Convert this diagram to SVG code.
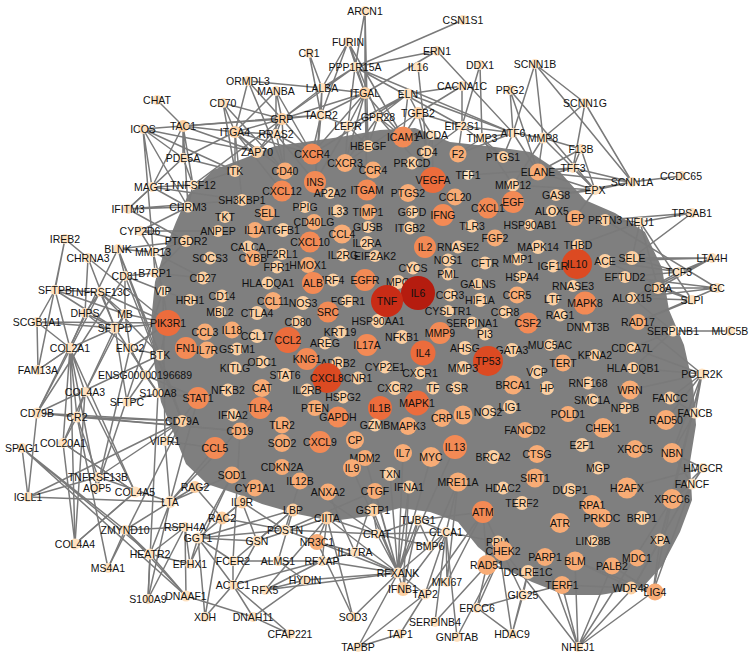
<svg xmlns="http://www.w3.org/2000/svg" width="751" height="658" viewBox="0 0 751 658">
<style>
text{font-family:"Liberation Sans",Arial,sans-serif;font-size:10.5px;fill:#111;text-anchor:middle}
.a{fill:#FEE1BF}.b{fill:#FCD0A3}.c{fill:#F8AC76}.d{fill:#F38A55}.e{fill:#EC6C3C}.f{fill:#DC4A22}.g{fill:#C92C16}.h{fill:#B51C0F}
#edges path{stroke:#7a7a7a;stroke-width:1.5;fill:none}
#core{fill:#7f7f7f}
</style>
<rect width="751" height="658" fill="#fff"/>
<path id="core" d="M188,195 L213,170 L245,158 L275,146 L305,142 L340,137 L380,130 L415,128 L450,142 L495,147 L530,152 L560,172 L585,200 L615,213 L645,232 L662,268 L669,310 L684,345 L693,385 L696,425 L690,462 L692,500 L680,532 L662,566 L642,588 L600,595 L565,595 L532,582 L505,569 L478,547 L458,522 L430,512 L400,508 L370,516 L332,521 L297,514 L262,504 L237,494 L207,484 L186,464 L174,434 L161,402 L154,362 L151,322 L155,282 L164,252 L176,222 Z"/>
<g id="edges">
<path id="e-ARCN1" d="M365 11L355 67M365 11L365 93M365 11L368 146"/>
<path id="e-CSN1S1" d="M463 20L355 67"/>
<path id="e-FURIN" d="M348 42L322 88M348 42L321 115M348 42L365 93M348 42L403 137M348 42L378 117"/>
<path id="e-CR1" d="M309 53L322 88M309 53L321 115"/>
<path id="e-ERN1" d="M437 51L355 67M437 51L513 133M437 51L365 93"/>
<path id="e-DDX1" d="M480 65L462 126M480 65L482 138"/>
<path id="e-SCNN1B" d="M535 64L585 103M535 64L632 182M535 64L543 138M535 64L513 133"/>
<path id="e-PPP1R15A" d="M355 67L365 93M355 67L513 133M355 67L322 88M355 67L462 126M355 67L282 119M355 67L348 126"/>
<path id="e-IL16" d="M418 67L427 152"/>
<path id="e-CACNA1C" d="M462 86L418 113M462 86L462 126M462 86L408 94"/>
<path id="e-PRG2" d="M510 90L595 190M510 90L538 172M510 90L513 133"/>
<path id="e-SCNN1G" d="M585 103L632 182M585 103L543 138M585 103L573 168"/>
<path id="e-ORMDL3" d="M248 81L322 88M248 81L285 171M248 81L235 132M248 81L282 119"/>
<path id="e-MANBA" d="M276 91L282 119M276 91L235 132M276 91L276 134M276 91L312 154"/>
<path id="e-LALBA" d="M322 88L282 119M322 88L321 115M322 88L315 182M322 88L365 93"/>
<path id="e-ITGAL" d="M365 93L403 137M365 93L348 126M365 93L312 154M365 93L367 190M365 93L368 146M365 93L321 115M365 93L282 119M365 93L345 163"/>
<path id="e-ELN" d="M408 94L418 113M408 94L403 137M408 94L378 117M408 94L513 133M408 94L348 126M408 94L312 154"/>
<path id="e-CHAT" d="M157 100L183 126"/>
<path id="e-CD70" d="M223 103L235 171M223 103L282 119M223 103L235 132M223 103L285 171"/>
<path id="e-TGFB2" d="M418 113L403 137M418 113L427 152M418 113L432 135M418 113L462 126M418 113L345 163"/>
<path id="e-GPR28" d="M378 117L403 137M378 117L368 146M378 117L345 163M378 117L433 180"/>
<path id="e-TACR2" d="M321 115L282 119M321 115L183 126M321 115L315 182M321 115L348 126M321 115L312 154"/>
<path id="e-GRP" d="M282 119L183 126M282 119L235 132M282 119L276 134M282 119L312 154M282 119L285 171M282 119L257 152M282 119L193 185"/>
<path id="e-LEPR" d="M348 126L368 146M348 126L345 163M348 126L315 182"/>
<path id="e-TAC1" d="M183 126L183 158M183 126L188 207M183 126L235 132M183 126L143 129M183 126L193 185M183 126L152 187M183 126L257 152"/>
<path id="e-ICOS" d="M143 129L155 273M143 129L152 187M143 129L183 158M143 129L257 152M143 129L188 207M143 129L235 171"/>
<path id="e-ITGA4" d="M235 132L257 152M235 132L235 171M235 132L285 171M235 132L276 134M235 132L183 158M235 132L242 200M235 132L282 191M235 132L312 154"/>
<path id="e-RRAS2" d="M276 134L312 154M276 134L257 152M276 134L285 171M276 134L315 182"/>
<path id="e-EIF2S1" d="M462 126L458 154M462 126L503 157M462 126L513 133M462 126L427 152"/>
<path id="e-AICDA" d="M432 135L427 152M432 135L433 180M432 135L403 137"/>
<path id="e-TIMP3" d="M482 138L503 157M482 138L458 154M482 138L513 185M482 138L513 133"/>
<path id="e-ATF6" d="M513 133L503 157M513 133L538 172M513 133L543 138M513 133L458 154"/>
<path id="e-MMP8" d="M543 138L538 172M543 138L513 185M543 138L573 168M543 138L595 190"/>
<path id="e-F13B" d="M581 149L573 168M581 149L538 172M581 149L543 138M581 149L595 190"/>
<path id="e-PDE5A" d="M183 158L152 187M183 158L193 185M183 158L235 171M183 158L128 209"/>
<path id="e-TFF3" d="M573 168L595 190M573 168L538 172M573 168L468 175M573 168L513 185M573 168L632 182"/>
<path id="e-CCDC65" d="M681 176L632 182"/>
<path id="e-SCNN1A" d="M632 182L595 190M632 182L538 172M632 182L556 195"/>
<path id="e-TNFSF12" d="M193 185L152 187M193 185L188 207M193 185L235 171"/>
<path id="e-MAGT1" d="M152 187L128 209M152 187L188 207M152 187L242 200"/>
<path id="e-EPX" d="M595 190L538 172M595 190L556 195M595 190L513 185M595 190L575 218"/>
<path id="e-IFITM3" d="M128 209L188 207M128 209L242 200M128 209L186 241"/>
<path id="e-TPSAB1" d="M692 213L640 222M692 213L605 220M692 213L632 258"/>
<path id="e-NEU1" d="M640 222L605 220M640 222L632 258M640 222L578 245M640 222L658 288"/>
<path id="e-CYP2D6" d="M140 231L186 241M140 231L153 252M140 231L188 207M140 231L218 231"/>
<path id="e-IREB2" d="M65 239L55 290M65 239L38 370M65 239L88 258"/>
<path id="e-BLNK" d="M118 249L153 252M118 249L125 276M118 249L160 355M118 249L37 413M118 249L186 241M118 249L182 421"/>
<path id="e-MMP13" d="M153 252L186 241M153 252L163 291M153 252L203 278"/>
<path id="e-CHRNA3" d="M88 258L85 313M88 258L115 328M88 258L168 323"/>
<path id="e-B7RP1" d="M155 273L186 241M155 273L125 276M155 273L203 278"/>
<path id="e-CD81" d="M125 276L163 291M125 276L125 314M125 276L182 421M125 276L37 413"/>
<path id="e-VIP" d="M163 291L168 323M163 291L190 300"/>
<path id="e-SFTPB" d="M55 290L37 322M55 290L115 328M55 290L70 348M55 290L100 292M55 290L125 314"/>
<path id="e-TNFRSF13C" d="M100 292L115 328M100 292L125 314M100 292L160 355M100 292L37 413M100 292L85 313M100 292L168 323"/>
<path id="e-DHPS" d="M85 313L115 328M85 313L130 348M85 313L70 348"/>
<path id="e-MB" d="M125 314L115 328M125 314L168 323M125 314L130 348M125 314L85 392"/>
<path id="e-SCGB1A1" d="M37 322L115 328M37 322L168 323M37 322L70 348"/>
<path id="e-SFTPD" d="M115 328L127 402M115 328L168 323M115 328L70 348M115 328L85 392M115 328L158 393"/>
<path id="e-COL2A1" d="M70 348L85 392M70 348L75 544M70 348L77 417M70 348L63 443M70 348L135 492M70 348L38 370M70 348L97 488"/>
<path id="e-ENO2" d="M130 348L160 355M130 348L168 323M130 348L145 375"/>
<path id="e-BTK" d="M160 355L168 323M160 355L182 421"/>
<path id="e-FAM13A" d="M38 370L37 322M38 370L70 348"/>
<path id="e-ENSG" d="M145 375L130 348M145 375L158 393M145 375L198 398"/>
<path id="e-COL4A3" d="M85 392L75 544M85 392L135 492M85 392L77 417M85 392L63 443"/>
<path id="e-S100A8" d="M158 393L148 599M158 393L198 398M158 393L127 402"/>
<path id="e-SFTPC" d="M127 402L160 355"/>
<path id="e-CD79B" d="M37 413L77 417M37 413L182 421M37 413L28 497M37 413L240 431M37 413L160 355"/>
<path id="e-CR2" d="M77 417L182 421M77 417L240 431M77 417L108 568M77 417L63 443"/>
<path id="e-SPAG1" d="M22 448L28 497M22 448L150 554M22 448L186 596M22 448L125 530"/>
<path id="e-COL20A1" d="M63 443L75 544M63 443L135 492"/>
<path id="e-VIPR1" d="M165 441L163 291M165 441L170 502M165 441L215 448M165 441L198 398"/>
<path id="e-TNFRSF13B" d="M98 477L170 502M98 477L182 421M98 477L28 497M98 477L77 417"/>
<path id="e-AQP5" d="M97 488L163 291M97 488L130 348"/>
<path id="e-COL4A5" d="M135 492L75 544M135 492L63 443"/>
<path id="e-IGLL1" d="M28 497L170 502M28 497L182 421"/>
<path id="e-LTA" d="M170 502L215 448M170 502L198 398M170 502L232 475M170 502L150 554M170 502L148 599M170 502L195 487M170 502L260 408"/>
<path id="e-ZMYND10" d="M125 530L150 554M125 530L108 568M125 530L185 527M125 530L186 596M125 530L170 502"/>
<path id="e-RSPH4A" d="M185 527L150 554M185 527L186 596M185 527L190 564M185 527L148 599"/>
<path id="e-COL4A4" d="M75 544L135 492"/>
<path id="e-HEATR2" d="M150 554L186 596M150 554L148 599M150 554L190 564"/>
<path id="e-MS4A1" d="M108 568L182 421"/>
<path id="e-EPHX1" d="M190 564L198 538M190 564L232 475"/>
<path id="e-DNAAF1" d="M186 596L253 617"/>
<path id="e-GGT1" d="M198 538L222 518M198 538L257 541M198 538L242 502M198 538L232 475M198 538L293 510"/>
<path id="e-RAC2" d="M222 518L242 502M222 518L195 487M222 518L285 530"/>
<path id="e-XDH" d="M205 617L233 585M205 617L198 538M205 617L222 518"/>
<path id="e-DNAH11" d="M253 617L233 585M253 617L305 580"/>
<path id="e-CFAP221" d="M290 634L233 585M290 634L253 617"/>
<path id="e-ACTC1" d="M233 585L257 541M233 585L233 561M233 585L198 538M233 585L322 561"/>
<path id="e-RFX5" d="M265 590L322 561M265 590L327 518M265 590L398 573M265 590L305 580"/>
<path id="e-HYDIN" d="M305 580L398 573M305 580L278 561"/>
<path id="e-FCER2" d="M233 561L240 431M233 561L293 510M233 561L198 538"/>
<path id="e-ALMS1" d="M278 561L233 561M278 561L322 561M278 561L293 510"/>
<path id="e-RFXAP" d="M322 561L327 518M322 561L398 573M322 561L355 552"/>
<path id="e-GSN" d="M257 541L293 510M257 541L327 518M257 541L242 502"/>
<path id="e-POSTN" d="M285 530L242 502M285 530L300 481M285 530L375 491M285 530L198 538M285 530L317 542"/>
<path id="e-NR3C1" d="M317 542L327 518M317 542L353 617M317 542L355 552M317 542L398 573"/>
<path id="e-IL17RA" d="M355 552L375 491M355 552L398 573M355 552L328 492"/>
<path id="e-SOD3" d="M353 617L327 518M353 617L398 573"/>
<path id="e-TAPBP" d="M358 647L400 634M358 647L425 594M358 647L398 573"/>
<path id="e-RFXANK" d="M398 573L327 518M398 573L375 491M398 573L390 474M398 573L409 487M398 573L403 453M398 573L431 457M398 573L365 458M398 573L352 468M398 573L418 520M398 573L377 534M398 573L446 532M398 573L373 510M398 573L455 447"/>
<path id="e-IFNB1" d="M403 589L398 573M403 589L409 487M403 589L418 520M403 589L446 532"/>
<path id="e-TAP2" d="M425 594L400 634M425 594L398 573M425 594L446 532M425 594L483 512"/>
<path id="e-MKI67" d="M447 582L446 532M447 582L458 482M447 582L483 512"/>
<path id="e-SERPINB4" d="M435 622L446 532M435 622L487 565"/>
<path id="e-GNPTAB" d="M457 637L446 532M457 637L503 550"/>
<path id="e-ERCC6" d="M477 608L523 595M477 608L487 565M477 608L512 634M477 608L503 550"/>
<path id="e-HDAC9" d="M512 634L528 572M512 634L498 542M512 634L523 595"/>
<path id="e-GIG25" d="M523 595L528 572M523 595L562 585M523 595L483 512"/>
<path id="e-NHEJ1" d="M578 647L653 592M578 647L633 588M578 647L562 585M578 647L575 561M578 647L612 566M578 647L672 499M578 647L503 550M578 647L545 557"/>
<path id="e-CLCA1" d="M446 532L418 520M446 532L377 534M446 532L458 482"/>
<path id="e-TUBG1" d="M418 520L377 534M418 520L483 512"/>
<path id="e-BMP6" d="M430 546L418 520M430 546L458 482M430 546L377 534"/>
<path id="e-CRAT" d="M377 534L373 510M377 534L327 518M377 534L300 481M377 534L285 530"/>
<path id="e-RAD51" d="M487 565L483 512M487 565L528 572"/>
<path id="e-PPIA" d="M498 542L446 532"/>
<path id="e-LTA4H" d="M712 258L632 258M712 258L658 288M712 258L605 261M712 258L679 272M712 258L632 298"/>
<path id="e-TCF3" d="M679 272L632 258M679 272L625 277M679 272L605 261M679 272L632 298"/>
<path id="e-GC" d="M717 288L658 288M717 288L632 298M717 288L625 277M717 288L638 322M717 288L605 220"/>
<path id="e-SLPI" d="M692 300L632 298M692 300L658 288M692 300L638 322M692 300L605 261M692 300L640 222"/>
<path id="e-SERPINB1" d="M673 331L730 331M673 331L638 322M673 331L632 348M673 331L632 298M673 331L633 368"/>
<path id="e-POLR2K" d="M702 374L633 368M702 374L670 398M702 374L630 390M702 374L638 322M702 374L666 420M702 374L672 453M702 374L695 413M702 374L632 348M702 374L672 499M702 374L660 540"/>
<path id="e-FANCB" d="M695 413L666 420M695 413L672 453M695 413L670 398"/>
<path id="e-HMGCR" d="M703 468L672 453M703 468L672 499M703 468L627 488M703 468L692 484"/>
<path id="e-FANCF" d="M692 484L672 499M692 484L672 453M692 484L660 540M692 484L653 592M692 484L633 588"/>
<path id="e-XPA" d="M660 540L653 592M660 540L633 588M660 540L672 499"/>
<path id="e-LIG4" d="M653 592L633 588M653 592L612 566M653 592L575 561M653 592L672 499"/>
<path id="e-WDR48" d="M633 588L562 585M633 588L575 561"/>
</g>
<g id="nodes">
<g id="n-ARCN1"><circle class="a" cx="365" cy="11" r="5"/><text x="365" y="15">ARCN1</text></g>
<g id="n-CSN1S1"><circle class="a" cx="463" cy="20" r="5"/><text x="463" y="24">CSN1S1</text></g>
<g id="n-FURIN"><circle class="a" cx="348" cy="42" r="5"/><text x="348" y="46">FURIN</text></g>
<g id="n-CR1"><circle class="a" cx="309" cy="53" r="5"/><text x="309" y="57">CR1</text></g>
<g id="n-ERN1"><circle class="a" cx="437" cy="51" r="5"/><text x="437" y="55">ERN1</text></g>
<g id="n-DDX1"><circle class="a" cx="480" cy="65" r="5"/><text x="480" y="69">DDX1</text></g>
<g id="n-SCNN1B"><circle class="a" cx="535" cy="64" r="5"/><text x="535" y="68">SCNN1B</text></g>
<g id="n-PPP1R15A"><circle class="a" cx="355" cy="67" r="5"/><text x="355" y="71">PPP1R15A</text></g>
<g id="n-IL16"><circle class="a" cx="418" cy="67" r="5"/><text x="418" y="71">IL16</text></g>
<g id="n-CACNA1C"><circle class="a" cx="462" cy="86" r="5"/><text x="462" y="90">CACNA1C</text></g>
<g id="n-PRG2"><circle class="a" cx="510" cy="90" r="5"/><text x="510" y="94">PRG2</text></g>
<g id="n-SCNN1G"><circle class="a" cx="585" cy="103" r="5"/><text x="585" y="107">SCNN1G</text></g>
<g id="n-ORMDL3"><circle class="a" cx="248" cy="81" r="5"/><text x="248" y="85">ORMDL3</text></g>
<g id="n-MANBA"><circle class="a" cx="276" cy="91" r="5"/><text x="276" y="95">MANBA</text></g>
<g id="n-LALBA"><circle class="a" cx="322" cy="88" r="5"/><text x="322" y="92">LALBA</text></g>
<g id="n-ITGAL"><circle class="b" cx="365" cy="93" r="6"/><text x="365" y="97">ITGAL</text></g>
<g id="n-ELN"><circle class="a" cx="408" cy="94" r="5.5"/><text x="408" y="98">ELN</text></g>
<g id="n-CHAT"><circle class="a" cx="157" cy="100" r="5"/><text x="157" y="104">CHAT</text></g>
<g id="n-CD70"><circle class="a" cx="223" cy="103" r="5"/><text x="223" y="107">CD70</text></g>
<g id="n-TGFB2"><circle class="b" cx="418" cy="113" r="6"/><text x="418" y="117">TGFB2</text></g>
<g id="n-GPR28"><circle class="a" cx="378" cy="117" r="5"/><text x="378" y="121">GPR28</text></g>
<g id="n-TACR2"><circle class="a" cx="321" cy="115" r="5.5"/><text x="321" y="119">TACR2</text></g>
<g id="n-GRP"><circle class="b" cx="282" cy="119" r="6"/><text x="282" y="123">GRP</text></g>
<g id="n-LEPR"><circle class="a" cx="348" cy="126" r="5.5"/><text x="348" y="130">LEPR</text></g>
<g id="n-TAC1"><circle class="b" cx="183" cy="126" r="6"/><text x="183" y="130">TAC1</text></g>
<g id="n-ICOS"><circle class="a" cx="143" cy="129" r="5"/><text x="143" y="133">ICOS</text></g>
<g id="n-ITGA4"><circle class="b" cx="235" cy="132" r="6"/><text x="235" y="136">ITGA4</text></g>
<g id="n-RRAS2"><circle class="a" cx="276" cy="134" r="5"/><text x="276" y="138">RRAS2</text></g>
<g id="n-EIF2S1"><circle class="a" cx="462" cy="126" r="5"/><text x="462" y="130">EIF2S1</text></g>
<g id="n-AICDA"><circle class="a" cx="432" cy="135" r="5"/><text x="432" y="139">AICDA</text></g>
<g id="n-TIMP3"><circle class="a" cx="482" cy="138" r="5"/><text x="482" y="142">TIMP3</text></g>
<g id="n-ATF6"><circle class="a" cx="513" cy="133" r="5"/><text x="513" y="137">ATF6</text></g>
<g id="n-MMP8"><circle class="a" cx="543" cy="138" r="5.5"/><text x="543" y="142">MMP8</text></g>
<g id="n-ICAM1"><circle class="d" cx="403" cy="137" r="10.5"/><text x="403" y="141">ICAM1</text></g>
<g id="n-F13B"><circle class="a" cx="581" cy="149" r="5"/><text x="581" y="153">F13B</text></g>
<g id="n-HBEGF"><circle class="b" cx="368" cy="146" r="6"/><text x="368" y="150">HBEGF</text></g>
<g id="n-ZAP70"><circle class="b" cx="257" cy="152" r="6"/><text x="257" y="156">ZAP70</text></g>
<g id="n-CXCR4"><circle class="d" cx="312" cy="154" r="10.5"/><text x="312" y="158">CXCR4</text></g>
<g id="n-CD4"><circle class="b" cx="427" cy="152" r="6.5"/><text x="427" y="156">CD4</text></g>
<g id="n-F2"><circle class="c" cx="458" cy="154" r="8.5"/><text x="458" y="158">F2</text></g>
<g id="n-PTGS1"><circle class="b" cx="503" cy="157" r="6"/><text x="503" y="161">PTGS1</text></g>
<g id="n-PDE5A"><circle class="a" cx="183" cy="158" r="5"/><text x="183" y="162">PDE5A</text></g>
<g id="n-CXCR3"><circle class="c" cx="345" cy="163" r="9"/><text x="345" y="167">CXCR3</text></g>
<g id="n-PRKCD"><circle class="b" cx="412" cy="163" r="6.5"/><text x="412" y="167">PRKCD</text></g>
<g id="n-TFF3"><circle class="a" cx="573" cy="168" r="5"/><text x="573" y="172">TFF3</text></g>
<g id="n-CCR4"><circle class="c" cx="373" cy="170" r="8.5"/><text x="373" y="174">CCR4</text></g>
<g id="n-ITK"><circle class="b" cx="235" cy="171" r="6"/><text x="235" y="175">ITK</text></g>
<g id="n-CD40"><circle class="c" cx="285" cy="171" r="8.5"/><text x="285" y="175">CD40</text></g>
<g id="n-ELANE"><circle class="c" cx="538" cy="172" r="8.5"/><text x="538" y="176">ELANE</text></g>
<g id="n-TFF1"><circle class="a" cx="468" cy="175" r="5"/><text x="468" y="179">TFF1</text></g>
<g id="n-CCDC65"><circle class="a" cx="681" cy="176" r="5"/><text x="681" y="180">CCDC65</text></g>
<g id="n-VEGFA"><circle class="e" cx="433" cy="180" r="13"/><text x="433" y="184">VEGFA</text></g>
<g id="n-INS"><circle class="d" cx="315" cy="182" r="11"/><text x="315" y="186">INS</text></g>
<g id="n-SCNN1A"><circle class="a" cx="632" cy="182" r="5"/><text x="632" y="186">SCNN1A</text></g>
<g id="n-MMP12"><circle class="b" cx="513" cy="185" r="6.5"/><text x="513" y="189">MMP12</text></g>
<g id="n-TNFSF12"><circle class="a" cx="193" cy="185" r="5"/><text x="193" y="189">TNFSF12</text></g>
<g id="n-MAGT1"><circle class="a" cx="152" cy="187" r="5"/><text x="152" y="191">MAGT1</text></g>
<g id="n-EPX"><circle class="a" cx="595" cy="190" r="5"/><text x="595" y="194">EPX</text></g>
<g id="n-ITGAM"><circle class="d" cx="367" cy="190" r="10.5"/><text x="367" y="194">ITGAM</text></g>
<g id="n-CXCL12"><circle class="d" cx="282" cy="191" r="10.5"/><text x="282" y="195">CXCL12</text></g>
<g id="n-AP2A2"><circle class="b" cx="330" cy="193" r="6"/><text x="330" y="197">AP2A2</text></g>
<g id="n-PTGS2"><circle class="c" cx="408" cy="193" r="9"/><text x="408" y="197">PTGS2</text></g>
<g id="n-GAS8"><circle class="b" cx="556" cy="195" r="6"/><text x="556" y="199">GAS8</text></g>
<g id="n-CCL20"><circle class="c" cx="455" cy="197" r="8.5"/><text x="455" y="201">CCL20</text></g>
<g id="n-SH3KBP1"><circle class="b" cx="242" cy="200" r="6"/><text x="242" y="204">SH3KBP1</text></g>
<g id="n-EGF"><circle class="d" cx="513" cy="202" r="11"/><text x="513" y="206">EGF</text></g>
<g id="n-PPIG"><circle class="b" cx="305" cy="207" r="6"/><text x="305" y="211">PPIG</text></g>
<g id="n-CHRM3"><circle class="a" cx="188" cy="207" r="5.5"/><text x="188" y="211">CHRM3</text></g>
<g id="n-CXCL1"><circle class="d" cx="488" cy="208" r="10.5"/><text x="488" y="212">CXCL1</text></g>
<g id="n-IFITM3"><circle class="a" cx="128" cy="209" r="5"/><text x="128" y="213">IFITM3</text></g>
<g id="n-ALOX5"><circle class="b" cx="552" cy="211" r="6"/><text x="552" y="215">ALOX5</text></g>
<g id="n-IL33"><circle class="b" cx="338" cy="211" r="6.5"/><text x="338" y="215">IL33</text></g>
<g id="n-TIMP1"><circle class="c" cx="368" cy="212" r="8"/><text x="368" y="216">TIMP1</text></g>
<g id="n-G6PD"><circle class="b" cx="412" cy="212" r="6.5"/><text x="412" y="216">G6PD</text></g>
<g id="n-SELL"><circle class="c" cx="267" cy="213" r="8"/><text x="267" y="217">SELL</text></g>
<g id="n-TPSAB1"><circle class="a" cx="692" cy="213" r="5"/><text x="692" y="217">TPSAB1</text></g>
<g id="n-IFNG"><circle class="d" cx="443" cy="215" r="11"/><text x="443" y="219">IFNG</text></g>
<g id="n-TKT"><circle class="b" cx="225" cy="217" r="6"/><text x="225" y="221">TKT</text></g>
<g id="n-LEP"><circle class="c" cx="575" cy="218" r="8"/><text x="575" y="222">LEP</text></g>
<g id="n-PRTN3"><circle class="b" cx="605" cy="220" r="6"/><text x="605" y="224">PRTN3</text></g>
<g id="n-CD40LG"><circle class="c" cx="314" cy="222" r="8"/><text x="314" y="226">CD40LG</text></g>
<g id="n-NEU1"><circle class="a" cx="640" cy="222" r="5"/><text x="640" y="226">NEU1</text></g>
<g id="n-HSP90AB1"><circle class="b" cx="530" cy="225" r="6"/><text x="530" y="229">HSP90AB1</text></g>
<g id="n-GUSB"><circle class="b" cx="368" cy="227" r="6"/><text x="368" y="231">GUSB</text></g>
<g id="n-TLR3"><circle class="b" cx="472" cy="226" r="6.5"/><text x="472" y="230">TLR3</text></g>
<g id="n-ITGB2"><circle class="b" cx="410" cy="228" r="6.5"/><text x="410" y="232">ITGB2</text></g>
<g id="n-IL1A"><circle class="c" cx="255" cy="230" r="8"/><text x="255" y="234">IL1A</text></g>
<g id="n-TGFB1"><circle class="b" cx="283" cy="230" r="7"/><text x="283" y="234">TGFB1</text></g>
<g id="n-CYP2D6"><circle class="a" cx="140" cy="231" r="5"/><text x="140" y="235">CYP2D6</text></g>
<g id="n-ANPEP"><circle class="b" cx="218" cy="231" r="6"/><text x="218" y="235">ANPEP</text></g>
<g id="n-CCL4"><circle class="c" cx="342" cy="234" r="9.5"/><text x="342" y="238">CCL4</text></g>
<g id="n-FGF2"><circle class="c" cx="495" cy="238" r="8.5"/><text x="495" y="242">FGF2</text></g>
<g id="n-IREB2"><circle class="a" cx="65" cy="239" r="5"/><text x="65" y="243">IREB2</text></g>
<g id="n-PTGDR2"><circle class="b" cx="186" cy="241" r="6"/><text x="186" y="245">PTGDR2</text></g>
<g id="n-CXCL10"><circle class="d" cx="310" cy="242" r="10.5"/><text x="310" y="246">CXCL10</text></g>
<g id="n-IL2RA"><circle class="b" cx="367" cy="243" r="7"/><text x="367" y="247">IL2RA</text></g>
<g id="n-THBD"><circle class="b" cx="578" cy="245" r="6"/><text x="578" y="249">THBD</text></g>
<g id="n-CALCA"><circle class="b" cx="248" cy="247" r="6.5"/><text x="248" y="251">CALCA</text></g>
<g id="n-IL2"><circle class="d" cx="425" cy="247" r="11"/><text x="425" y="251">IL2</text></g>
<g id="n-RNASE2"><circle class="b" cx="458" cy="247" r="6.5"/><text x="458" y="251">RNASE2</text></g>
<g id="n-MAPK14"><circle class="b" cx="538" cy="247" r="7"/><text x="538" y="251">MAPK14</text></g>
<g id="n-BLNK"><circle class="a" cx="118" cy="249" r="5"/><text x="118" y="253">BLNK</text></g>
<g id="n-MMP13"><circle class="a" cx="153" cy="252" r="5"/><text x="153" y="256">MMP13</text></g>
<g id="n-F2RL1"><circle class="b" cx="282" cy="254" r="6"/><text x="282" y="258">F2RL1</text></g>
<g id="n-IL2RG"><circle class="b" cx="343" cy="255" r="6.5"/><text x="343" y="259">IL2RG</text></g>
<g id="n-EIF2AK2"><circle class="b" cx="375" cy="256" r="6"/><text x="375" y="260">EIF2AK2</text></g>
<g id="n-CHRNA3"><circle class="a" cx="88" cy="258" r="5"/><text x="88" y="262">CHRNA3</text></g>
<g id="n-SOCS3"><circle class="b" cx="210" cy="258" r="6.5"/><text x="210" y="262">SOCS3</text></g>
<g id="n-CYBB"><circle class="c" cx="253" cy="258" r="8"/><text x="253" y="262">CYBB</text></g>
<g id="n-SELE"><circle class="b" cx="632" cy="258" r="7"/><text x="632" y="262">SELE</text></g>
<g id="n-LTA4H"><circle class="a" cx="712" cy="258" r="5"/><text x="712" y="262">LTA4H</text></g>
<g id="n-MMP1"><circle class="b" cx="518" cy="259" r="6.5"/><text x="518" y="263">MMP1</text></g>
<g id="n-NOS1"><circle class="b" cx="448" cy="260" r="6.5"/><text x="448" y="264">NOS1</text></g>
<g id="n-ACE"><circle class="b" cx="605" cy="261" r="7"/><text x="605" y="265">ACE</text></g>
<g id="n-CFTR"><circle class="b" cx="485" cy="263" r="6.5"/><text x="485" y="267">CFTR</text></g>
<g id="n-IL10"><circle class="f" cx="577" cy="264" r="15"/><text x="577" y="268">IL10</text></g>
<g id="n-HMOX1"><circle class="c" cx="308" cy="265" r="8"/><text x="308" y="269">HMOX1</text></g>
<g id="n-IGF1R"><circle class="b" cx="553" cy="266" r="6.5"/><text x="553" y="270">IGF1R</text></g>
<g id="n-FPR1"><circle class="b" cx="277" cy="267" r="6.5"/><text x="277" y="271">FPR1</text></g>
<g id="n-CYCS"><circle class="b" cx="413" cy="268" r="6.5"/><text x="413" y="272">CYCS</text></g>
<g id="n-TCF3"><circle class="a" cx="679" cy="272" r="5"/><text x="679" y="276">TCF3</text></g>
<g id="n-B7RP1"><circle class="a" cx="155" cy="273" r="5"/><text x="155" y="277">B7RP1</text></g>
<g id="n-PML"><circle class="b" cx="448" cy="274" r="6.5"/><text x="448" y="278">PML</text></g>
<g id="n-CD81"><circle class="a" cx="125" cy="276" r="5"/><text x="125" y="280">CD81</text></g>
<g id="n-EFTUD2"><circle class="b" cx="625" cy="277" r="6"/><text x="625" y="281">EFTUD2</text></g>
<g id="n-HSPA4"><circle class="b" cx="522" cy="277" r="6.5"/><text x="522" y="281">HSPA4</text></g>
<g id="n-CD27"><circle class="b" cx="203" cy="278" r="6.5"/><text x="203" y="282">CD27</text></g>
<g id="n-IRF4"><circle class="b" cx="333" cy="280" r="6.5"/><text x="333" y="284">IRF4</text></g>
<g id="n-EGFR"><circle class="d" cx="365" cy="280" r="11"/><text x="365" y="284">EGFR</text></g>
<g id="n-MPO"><circle class="b" cx="398" cy="282" r="7"/><text x="398" y="286">MPO</text></g>
<g id="n-GALNS"><circle class="b" cx="478" cy="284" r="6"/><text x="478" y="288">GALNS</text></g>
<g id="n-HLA-DQA1"><circle class="b" cx="268" cy="283" r="6.5"/><text x="268" y="287">HLA-DQA1</text></g>
<g id="n-ALB"><circle class="d" cx="313" cy="283" r="11"/><text x="313" y="287">ALB</text></g>
<g id="n-RNASE3"><circle class="b" cx="573" cy="286" r="6"/><text x="573" y="290">RNASE3</text></g>
<g id="n-CD8A"><circle class="b" cx="658" cy="288" r="6"/><text x="658" y="292">CD8A</text></g>
<g id="n-GC"><circle class="a" cx="717" cy="288" r="5"/><text x="717" y="292">GC</text></g>
<g id="n-SFTPB"><circle class="a" cx="55" cy="290" r="5"/><text x="55" y="294">SFTPB</text></g>
<g id="n-VIP"><circle class="a" cx="163" cy="291" r="5.5"/><text x="163" y="295">VIP</text></g>
<g id="n-TNFRSF13C"><circle class="a" cx="100" cy="292" r="5"/><text x="100" y="296">TNFRSF13C</text></g>
<g id="n-CCR3"><circle class="b" cx="450" cy="295" r="6.5"/><text x="450" y="299">CCR3</text></g>
<g id="n-CCR5"><circle class="c" cx="517" cy="295" r="8.5"/><text x="517" y="299">CCR5</text></g>
<g id="n-CD14"><circle class="b" cx="222" cy="296" r="6.5"/><text x="222" y="300">CD14</text></g>
<g id="n-ALOX15"><circle class="b" cx="632" cy="298" r="6"/><text x="632" y="302">ALOX15</text></g>
<g id="n-LTF"><circle class="b" cx="553" cy="299" r="6.5"/><text x="553" y="303">LTF</text></g>
<g id="n-HRH1"><circle class="b" cx="190" cy="300" r="6"/><text x="190" y="304">HRH1</text></g>
<g id="n-HIF1A"><circle class="b" cx="480" cy="300" r="7"/><text x="480" y="304">HIF1A</text></g>
<g id="n-SLPI"><circle class="a" cx="692" cy="300" r="5"/><text x="692" y="304">SLPI</text></g>
<g id="n-CCL11"><circle class="c" cx="273" cy="301" r="9"/><text x="273" y="305">CCL11</text></g>
<g id="n-FGFR1"><circle class="b" cx="348" cy="301" r="6.5"/><text x="348" y="305">FGFR1</text></g>
<g id="n-NOS3"><circle class="b" cx="303" cy="303" r="7"/><text x="303" y="307">NOS3</text></g>
<g id="n-MAPK8"><circle class="d" cx="585" cy="303" r="11.5"/><text x="585" y="307">MAPK8</text></g>
<g id="n-CYSLTR1"><circle class="b" cx="448" cy="311" r="6"/><text x="448" y="315">CYSLTR1</text></g>
<g id="n-CCR8"><circle class="b" cx="505" cy="312" r="6.5"/><text x="505" y="316">CCR8</text></g>
<g id="n-MBL2"><circle class="b" cx="220" cy="312" r="6"/><text x="220" y="316">MBL2</text></g>
<g id="n-SRC"><circle class="d" cx="328" cy="312" r="10.5"/><text x="328" y="316">SRC</text></g>
<g id="n-DHPS"><circle class="a" cx="85" cy="313" r="5"/><text x="85" y="317">DHPS</text></g>
<g id="n-CTLA4"><circle class="b" cx="257" cy="313" r="7"/><text x="257" y="317">CTLA4</text></g>
<g id="n-MB"><circle class="a" cx="125" cy="314" r="5"/><text x="125" y="318">MB</text></g>
<g id="n-RAG1"><circle class="b" cx="560" cy="315" r="6.5"/><text x="560" y="319">RAG1</text></g>
<g id="n-HSP90AA1"><circle class="b" cx="378" cy="321" r="7"/><text x="378" y="325">HSP90AA1</text></g>
<g id="n-SCGB1A1"><circle class="a" cx="37" cy="322" r="5"/><text x="37" y="326">SCGB1A1</text></g>
<g id="n-CD80"><circle class="b" cx="298" cy="322" r="6.5"/><text x="298" y="326">CD80</text></g>
<g id="n-RAD17"><circle class="c" cx="638" cy="322" r="8"/><text x="638" y="326">RAD17</text></g>
<g id="n-PIK3R1"><circle class="e" cx="168" cy="323" r="13"/><text x="168" y="327">PIK3R1</text></g>
<g id="n-SERPINA1"><circle class="b" cx="472" cy="323" r="6.5"/><text x="472" y="327">SERPINA1</text></g>
<g id="n-CSF2"><circle class="d" cx="528" cy="323" r="10.5"/><text x="528" y="327">CSF2</text></g>
<g id="n-DNMT3B"><circle class="b" cx="588" cy="327" r="6"/><text x="588" y="331">DNMT3B</text></g>
<g id="n-SFTPD"><circle class="a" cx="115" cy="328" r="5.5"/><text x="115" y="332">SFTPD</text></g>
<g id="n-IL18"><circle class="c" cx="232" cy="330" r="8.5"/><text x="232" y="334">IL18</text></g>
<g id="n-SERPINB1"><circle class="a" cx="673" cy="331" r="5.5"/><text x="673" y="335">SERPINB1</text></g>
<g id="n-MUC5B"><circle class="a" cx="730" cy="331" r="5"/><text x="730" y="335">MUC5B</text></g>
<g id="n-CCL3"><circle class="c" cx="205" cy="332" r="8.5"/><text x="205" y="336">CCL3</text></g>
<g id="n-KRT19"><circle class="b" cx="340" cy="332" r="6.5"/><text x="340" y="336">KRT19</text></g>
<g id="n-MMP9"><circle class="d" cx="440" cy="333" r="11"/><text x="440" y="337">MMP9</text></g>
<g id="n-PI3"><circle class="b" cx="485" cy="334" r="6.5"/><text x="485" y="338">PI3</text></g>
<g id="n-CCL17"><circle class="b" cx="257" cy="336" r="7"/><text x="257" y="340">CCL17</text></g>
<g id="n-NFKB1"><circle class="b" cx="402" cy="337" r="7"/><text x="402" y="341">NFKB1</text></g>
<g id="n-CCL2"><circle class="e" cx="288" cy="340" r="13"/><text x="288" y="344">CCL2</text></g>
<g id="n-AREG"><circle class="b" cx="325" cy="343" r="6.5"/><text x="325" y="347">AREG</text></g>
<g id="n-MUC5AC"><circle class="b" cx="550" cy="345" r="6"/><text x="550" y="349">MUC5AC</text></g>
<g id="n-IL17A"><circle class="d" cx="367" cy="345" r="11"/><text x="367" y="349">IL17A</text></g>
<g id="n-COL2A1"><circle class="a" cx="70" cy="348" r="5.5"/><text x="70" y="352">COL2A1</text></g>
<g id="n-ENO2"><circle class="a" cx="130" cy="348" r="5"/><text x="130" y="352">ENO2</text></g>
<g id="n-FN1"><circle class="d" cx="186" cy="348" r="11"/><text x="186" y="352">FN1</text></g>
<g id="n-CDCA7L"><circle class="b" cx="632" cy="348" r="6"/><text x="632" y="352">CDCA7L</text></g>
<g id="n-AHSG"><circle class="b" cx="465" cy="348" r="7"/><text x="465" y="352">AHSG</text></g>
<g id="n-IL7R"><circle class="c" cx="207" cy="350" r="8.5"/><text x="207" y="354">IL7R</text></g>
<g id="n-GSTM1"><circle class="b" cx="237" cy="349" r="6.5"/><text x="237" y="353">GSTM1</text></g>
<g id="n-GATA3"><circle class="b" cx="512" cy="350" r="7"/><text x="512" y="354">GATA3</text></g>
<g id="n-IL4"><circle class="e" cx="423" cy="353" r="12.5"/><text x="423" y="357">IL4</text></g>
<g id="n-BTK"><circle class="a" cx="160" cy="355" r="5.5"/><text x="160" y="359">BTK</text></g>
<g id="n-KPNA2"><circle class="b" cx="595" cy="355" r="6"/><text x="595" y="359">KPNA2</text></g>
<g id="n-KNG1"><circle class="d" cx="307" cy="359" r="11"/><text x="307" y="363">KNG1</text></g>
<g id="n-TP53"><circle class="f" cx="488" cy="361" r="15"/><text x="488" y="365">TP53</text></g>
<g id="n-ODC1"><circle class="b" cx="262" cy="362" r="6.5"/><text x="262" y="366">ODC1</text></g>
<g id="n-TERT"><circle class="c" cx="563" cy="363" r="8.5"/><text x="563" y="367">TERT</text></g>
<g id="n-ADRB2"><circle class="b" cx="338" cy="363" r="6.5"/><text x="338" y="367">ADRB2</text></g>
<g id="n-CYP2E1"><circle class="b" cx="385" cy="367" r="6.5"/><text x="385" y="371">CYP2E1</text></g>
<g id="n-MMP3"><circle class="b" cx="463" cy="368" r="7"/><text x="463" y="372">MMP3</text></g>
<g id="n-KITLG"><circle class="b" cx="235" cy="368" r="6.5"/><text x="235" y="372">KITLG</text></g>
<g id="n-HLA-DQB1"><circle class="b" cx="633" cy="368" r="6"/><text x="633" y="372">HLA-DQB1</text></g>
<g id="n-FAM13A"><circle class="a" cx="38" cy="370" r="5"/><text x="38" y="374">FAM13A</text></g>
<g id="n-VCP"><circle class="b" cx="537" cy="372" r="7"/><text x="537" y="376">VCP</text></g>
<g id="n-CXCR1"><circle class="b" cx="420" cy="373" r="6.5"/><text x="420" y="377">CXCR1</text></g>
<g id="n-POLR2K"><circle class="a" cx="702" cy="374" r="5.5"/><text x="702" y="378">POLR2K</text></g>
<g id="n-ENSG"><circle class="a" cx="145" cy="375" r="5"/><text x="145" y="379">ENSG00000196689</text></g>
<g id="n-STAT6"><circle class="b" cx="285" cy="375" r="7"/><text x="285" y="379">STAT6</text></g>
<g id="n-CXCL8"><circle class="f" cx="327" cy="378" r="15"/><text x="327" y="382">CXCL8</text></g>
<g id="n-CNR1"><circle class="b" cx="358" cy="378" r="6.5"/><text x="358" y="382">CNR1</text></g>
<g id="n-RNF168"><circle class="b" cx="588" cy="383" r="6.5"/><text x="588" y="387">RNF168</text></g>
<g id="n-BRCA1"><circle class="c" cx="513" cy="385" r="9.5"/><text x="513" y="389">BRCA1</text></g>
<g id="n-CAT"><circle class="c" cx="262" cy="388" r="9"/><text x="262" y="392">CAT</text></g>
<g id="n-CXCR2"><circle class="b" cx="395" cy="388" r="7"/><text x="395" y="392">CXCR2</text></g>
<g id="n-TF"><circle class="b" cx="433" cy="388" r="6.5"/><text x="433" y="392">TF</text></g>
<g id="n-GSR"><circle class="b" cx="457" cy="388" r="6.5"/><text x="457" y="392">GSR</text></g>
<g id="n-HP"><circle class="b" cx="547" cy="388" r="7"/><text x="547" y="392">HP</text></g>
<g id="n-NFKB2"><circle class="b" cx="228" cy="390" r="6.5"/><text x="228" y="394">NFKB2</text></g>
<g id="n-IL2RB"><circle class="b" cx="307" cy="390" r="6.5"/><text x="307" y="394">IL2RB</text></g>
<g id="n-WRN"><circle class="c" cx="630" cy="390" r="9.5"/><text x="630" y="394">WRN</text></g>
<g id="n-COL4A3"><circle class="a" cx="85" cy="392" r="5"/><text x="85" y="396">COL4A3</text></g>
<g id="n-S100A8"><circle class="a" cx="158" cy="393" r="5"/><text x="158" y="397">S100A8</text></g>
<g id="n-HSPG2"><circle class="b" cx="343" cy="397" r="6.5"/><text x="343" y="401">HSPG2</text></g>
<g id="n-STAT1"><circle class="d" cx="198" cy="398" r="11"/><text x="198" y="402">STAT1</text></g>
<g id="n-FANCC"><circle class="b" cx="670" cy="398" r="6.5"/><text x="670" y="402">FANCC</text></g>
<g id="n-SMC1A"><circle class="b" cx="592" cy="400" r="6.5"/><text x="592" y="404">SMC1A</text></g>
<g id="n-SFTPC"><circle class="a" cx="127" cy="402" r="5"/><text x="127" y="406">SFTPC</text></g>
<g id="n-MAPK1"><circle class="e" cx="417" cy="403" r="12.5"/><text x="417" y="407">MAPK1</text></g>
<g id="n-LIG1"><circle class="b" cx="510" cy="407" r="7"/><text x="510" y="411">LIG1</text></g>
<g id="n-IL1B"><circle class="e" cx="380" cy="408" r="12"/><text x="380" y="412">IL1B</text></g>
<g id="n-PTEN"><circle class="c" cx="315" cy="408" r="8"/><text x="315" y="412">PTEN</text></g>
<g id="n-TLR4"><circle class="d" cx="260" cy="408" r="11"/><text x="260" y="412">TLR4</text></g>
<g id="n-NPPB"><circle class="b" cx="625" cy="408" r="6"/><text x="625" y="412">NPPB</text></g>
<g id="n-NOS2"><circle class="b" cx="488" cy="412" r="7"/><text x="488" y="416">NOS2</text></g>
<g id="n-CD79B"><circle class="a" cx="37" cy="413" r="5.5"/><text x="37" y="417">CD79B</text></g>
<g id="n-FANCB"><circle class="a" cx="695" cy="413" r="5.5"/><text x="695" y="417">FANCB</text></g>
<g id="n-POLD1"><circle class="c" cx="568" cy="414" r="8"/><text x="568" y="418">POLD1</text></g>
<g id="n-IL5"><circle class="c" cx="463" cy="415" r="9.5"/><text x="463" y="419">IL5</text></g>
<g id="n-IFNA2"><circle class="b" cx="233" cy="415" r="6.5"/><text x="233" y="419">IFNA2</text></g>
<g id="n-CR2"><circle class="a" cx="77" cy="417" r="5.5"/><text x="77" y="421">CR2</text></g>
<g id="n-GAPDH"><circle class="d" cx="338" cy="417" r="10.5"/><text x="338" y="421">GAPDH</text></g>
<g id="n-CRP"><circle class="c" cx="442" cy="418" r="9"/><text x="442" y="422">CRP</text></g>
<g id="n-RAD50"><circle class="c" cx="666" cy="420" r="10"/><text x="666" y="424">RAD50</text></g>
<g id="n-CD79A"><circle class="b" cx="182" cy="421" r="6"/><text x="182" y="425">CD79A</text></g>
<g id="n-TLR2"><circle class="c" cx="282" cy="425" r="8.5"/><text x="282" y="429">TLR2</text></g>
<g id="n-GZMB"><circle class="b" cx="375" cy="425" r="6.5"/><text x="375" y="429">GZMB</text></g>
<g id="n-MAPK3"><circle class="c" cx="408" cy="426" r="9"/><text x="408" y="430">MAPK3</text></g>
<g id="n-CHEK1"><circle class="c" cx="603" cy="428" r="10"/><text x="603" y="432">CHEK1</text></g>
<g id="n-FANCD2"><circle class="c" cx="525" cy="430" r="8"/><text x="525" y="434">FANCD2</text></g>
<g id="n-CD19"><circle class="c" cx="240" cy="431" r="8.5"/><text x="240" y="435">CD19</text></g>
<g id="n-VIPR1"><circle class="a" cx="165" cy="441" r="5"/><text x="165" y="445">VIPR1</text></g>
<g id="n-CXCL9"><circle class="d" cx="320" cy="442" r="11"/><text x="320" y="446">CXCL9</text></g>
<g id="n-CP"><circle class="c" cx="355" cy="440" r="9"/><text x="355" y="444">CP</text></g>
<g id="n-SOD2"><circle class="c" cx="282" cy="443" r="9"/><text x="282" y="447">SOD2</text></g>
<g id="n-COL20A1"><circle class="a" cx="63" cy="443" r="5"/><text x="63" y="447">COL20A1</text></g>
<g id="n-E2F1"><circle class="b" cx="582" cy="445" r="7"/><text x="582" y="449">E2F1</text></g>
<g id="n-IL13"><circle class="d" cx="455" cy="447" r="12"/><text x="455" y="451">IL13</text></g>
<g id="n-CCL5"><circle class="d" cx="215" cy="448" r="11"/><text x="215" y="452">CCL5</text></g>
<g id="n-SPAG1"><circle class="a" cx="22" cy="448" r="5"/><text x="22" y="452">SPAG1</text></g>
<g id="n-XRCC5"><circle class="c" cx="635" cy="449" r="9"/><text x="635" y="453">XRCC5</text></g>
<g id="n-IL7"><circle class="c" cx="403" cy="453" r="9"/><text x="403" y="457">IL7</text></g>
<g id="n-NBN"><circle class="c" cx="672" cy="453" r="10"/><text x="672" y="457">NBN</text></g>
<g id="n-CTSG"><circle class="c" cx="537" cy="454" r="9"/><text x="537" y="458">CTSG</text></g>
<g id="n-MYC"><circle class="c" cx="431" cy="457" r="10"/><text x="431" y="461">MYC</text></g>
<g id="n-BRCA2"><circle class="b" cx="493" cy="457" r="7"/><text x="493" y="461">BRCA2</text></g>
<g id="n-MDM2"><circle class="c" cx="365" cy="458" r="8"/><text x="365" y="462">MDM2</text></g>
<g id="n-CDKN2A"><circle class="c" cx="282" cy="467" r="8"/><text x="282" y="471">CDKN2A</text></g>
<g id="n-IL9"><circle class="c" cx="352" cy="468" r="9"/><text x="352" y="472">IL9</text></g>
<g id="n-MGP"><circle class="b" cx="598" cy="468" r="6.5"/><text x="598" y="472">MGP</text></g>
<g id="n-HMGCR"><circle class="a" cx="703" cy="468" r="5"/><text x="703" y="472">HMGCR</text></g>
<g id="n-TXN"><circle class="b" cx="390" cy="474" r="7"/><text x="390" y="478">TXN</text></g>
<g id="n-SOD1"><circle class="c" cx="232" cy="475" r="8.5"/><text x="232" y="479">SOD1</text></g>
<g id="n-TNFRSF13B"><circle class="a" cx="98" cy="477" r="5"/><text x="98" y="481">TNFRSF13B</text></g>
<g id="n-SIRT1"><circle class="c" cx="535" cy="478" r="9.5"/><text x="535" y="482">SIRT1</text></g>
<g id="n-MRE11A"><circle class="c" cx="458" cy="482" r="9.5"/><text x="458" y="486">MRE11A</text></g>
<g id="n-IL12B"><circle class="c" cx="300" cy="481" r="8.5"/><text x="300" y="485">IL12B</text></g>
<g id="n-FANCF"><circle class="a" cx="692" cy="484" r="5.5"/><text x="692" y="488">FANCF</text></g>
<g id="n-IFNA1"><circle class="b" cx="409" cy="487" r="6.5"/><text x="409" y="491">IFNA1</text></g>
<g id="n-RAG2"><circle class="b" cx="195" cy="487" r="6"/><text x="195" y="491">RAG2</text></g>
<g id="n-CYP1A1"><circle class="c" cx="255" cy="488" r="8.5"/><text x="255" y="492">CYP1A1</text></g>
<g id="n-H2AFX"><circle class="c" cx="627" cy="488" r="10.5"/><text x="627" y="492">H2AFX</text></g>
<g id="n-AQP5"><circle class="a" cx="97" cy="488" r="5"/><text x="97" y="492">AQP5</text></g>
<g id="n-HDAC2"><circle class="b" cx="503" cy="488" r="6.5"/><text x="503" y="492">HDAC2</text></g>
<g id="n-DUSP1"><circle class="b" cx="570" cy="490" r="7"/><text x="570" y="494">DUSP1</text></g>
<g id="n-CTGF"><circle class="c" cx="375" cy="491" r="8"/><text x="375" y="495">CTGF</text></g>
<g id="n-ANXA2"><circle class="c" cx="328" cy="492" r="8.5"/><text x="328" y="496">ANXA2</text></g>
<g id="n-COL4A5"><circle class="a" cx="135" cy="492" r="5.5"/><text x="135" y="496">COL4A5</text></g>
<g id="n-IGLL1"><circle class="a" cx="28" cy="497" r="5"/><text x="28" y="501">IGLL1</text></g>
<g id="n-XRCC6"><circle class="c" cx="672" cy="499" r="10"/><text x="672" y="503">XRCC6</text></g>
<g id="n-IL9R"><circle class="b" cx="242" cy="502" r="6.5"/><text x="242" y="506">IL9R</text></g>
<g id="n-LTA"><circle class="a" cx="170" cy="502" r="6"/><text x="170" y="506">LTA</text></g>
<g id="n-TERF2"><circle class="b" cx="522" cy="503" r="7"/><text x="522" y="507">TERF2</text></g>
<g id="n-RPA1"><circle class="c" cx="592" cy="505" r="10"/><text x="592" y="509">RPA1</text></g>
<g id="n-GSTP1"><circle class="b" cx="373" cy="510" r="6.5"/><text x="373" y="514">GSTP1</text></g>
<g id="n-LBP"><circle class="b" cx="293" cy="510" r="6.5"/><text x="293" y="514">LBP</text></g>
<g id="n-ATM"><circle class="d" cx="483" cy="512" r="11"/><text x="483" y="516">ATM</text></g>
<g id="n-CIITA"><circle class="b" cx="327" cy="518" r="6.5"/><text x="327" y="522">CIITA</text></g>
<g id="n-RAC2"><circle class="b" cx="222" cy="518" r="6.5"/><text x="222" y="522">RAC2</text></g>
<g id="n-PRKDC"><circle class="c" cx="602" cy="518" r="9.5"/><text x="602" y="522">PRKDC</text></g>
<g id="n-BRIP1"><circle class="b" cx="642" cy="518" r="7"/><text x="642" y="522">BRIP1</text></g>
<g id="n-TUBG1"><circle class="a" cx="418" cy="520" r="5.5"/><text x="418" y="524">TUBG1</text></g>
<g id="n-ATR"><circle class="c" cx="560" cy="523" r="10"/><text x="560" y="527">ATR</text></g>
<g id="n-RSPH4A"><circle class="a" cx="185" cy="527" r="5"/><text x="185" y="531">RSPH4A</text></g>
<g id="n-ZMYND10"><circle class="a" cx="125" cy="530" r="5"/><text x="125" y="534">ZMYND10</text></g>
<g id="n-POSTN"><circle class="a" cx="285" cy="530" r="5.5"/><text x="285" y="534">POSTN</text></g>
<g id="n-CLCA1"><circle class="a" cx="446" cy="532" r="5"/><text x="446" y="536">CLCA1</text></g>
<g id="n-CRAT"><circle class="a" cx="377" cy="534" r="5"/><text x="377" y="538">CRAT</text></g>
<g id="n-GGT1"><circle class="a" cx="198" cy="538" r="5.5"/><text x="198" y="542">GGT1</text></g>
<g id="n-XPA"><circle class="b" cx="660" cy="540" r="6.5"/><text x="660" y="544">XPA</text></g>
<g id="n-LIN28B"><circle class="b" cx="593" cy="541" r="6"/><text x="593" y="545">LIN28B</text></g>
<g id="n-PPIA"><circle class="b" cx="498" cy="542" r="6.5"/><text x="498" y="546">PPIA</text></g>
<g id="n-GSN"><circle class="a" cx="257" cy="541" r="5.5"/><text x="257" y="545">GSN</text></g>
<g id="n-NR3C1"><circle class="c" cx="317" cy="542" r="8"/><text x="317" y="546">NR3C1</text></g>
<g id="n-COL4A4"><circle class="a" cx="75" cy="544" r="5.5"/><text x="75" y="548">COL4A4</text></g>
<g id="n-BMP6"><circle class="a" cx="430" cy="546" r="5"/><text x="430" y="550">BMP6</text></g>
<g id="n-CHEK2"><circle class="c" cx="503" cy="551" r="10"/><text x="503" y="555">CHEK2</text></g>
<g id="n-IL17RA"><circle class="a" cx="355" cy="552" r="5"/><text x="355" y="556">IL17RA</text></g>
<g id="n-HEATR2"><circle class="a" cx="150" cy="554" r="5.5"/><text x="150" y="558">HEATR2</text></g>
<g id="n-PARP1"><circle class="c" cx="545" cy="557" r="9"/><text x="545" y="561">PARP1</text></g>
<g id="n-MDC1"><circle class="c" cx="637" cy="558" r="8.5"/><text x="637" y="562">MDC1</text></g>
<g id="n-BLM"><circle class="c" cx="575" cy="561" r="9.5"/><text x="575" y="565">BLM</text></g>
<g id="n-FCER2"><circle class="a" cx="233" cy="561" r="5"/><text x="233" y="565">FCER2</text></g>
<g id="n-ALMS1"><circle class="a" cx="278" cy="561" r="5"/><text x="278" y="565">ALMS1</text></g>
<g id="n-RFXAP"><circle class="a" cx="322" cy="561" r="5"/><text x="322" y="565">RFXAP</text></g>
<g id="n-EPHX1"><circle class="a" cx="190" cy="564" r="5"/><text x="190" y="568">EPHX1</text></g>
<g id="n-RAD51"><circle class="c" cx="487" cy="565" r="10"/><text x="487" y="569">RAD51</text></g>
<g id="n-PALB2"><circle class="c" cx="612" cy="566" r="8.5"/><text x="612" y="570">PALB2</text></g>
<g id="n-MS4A1"><circle class="a" cx="108" cy="568" r="5"/><text x="108" y="572">MS4A1</text></g>
<g id="n-DCLRE1C"><circle class="b" cx="528" cy="572" r="7"/><text x="528" y="576">DCLRE1C</text></g>
<g id="n-RFXANK"><circle class="a" cx="398" cy="573" r="5.5"/><text x="398" y="577">RFXANK</text></g>
<g id="n-HYDIN"><circle class="a" cx="305" cy="580" r="5"/><text x="305" y="584">HYDIN</text></g>
<g id="n-MKI67"><circle class="a" cx="447" cy="582" r="5"/><text x="447" y="586">MKI67</text></g>
<g id="n-TERF1"><circle class="c" cx="562" cy="585" r="9"/><text x="562" y="589">TERF1</text></g>
<g id="n-ACTC1"><circle class="a" cx="233" cy="585" r="5"/><text x="233" y="589">ACTC1</text></g>
<g id="n-WDR48"><circle class="b" cx="631" cy="588" r="6.5"/><text x="631" y="592">WDR48</text></g>
<g id="n-IFNB1"><circle class="b" cx="403" cy="589" r="7"/><text x="403" y="593">IFNB1</text></g>
<g id="n-RFX5"><circle class="a" cx="265" cy="590" r="5"/><text x="265" y="594">RFX5</text></g>
<g id="n-LIG4"><circle class="c" cx="655" cy="592" r="8.5"/><text x="655" y="596">LIG4</text></g>
<g id="n-TAP2"><circle class="a" cx="425" cy="594" r="5.5"/><text x="425" y="598">TAP2</text></g>
<g id="n-GIG25"><circle class="a" cx="523" cy="595" r="5.5"/><text x="523" y="599">GIG25</text></g>
<g id="n-DNAAF1"><circle class="a" cx="186" cy="596" r="5.5"/><text x="186" y="600">DNAAF1</text></g>
<g id="n-S100A9"><circle class="a" cx="148" cy="599" r="5"/><text x="148" y="603">S100A9</text></g>
<g id="n-ERCC6"><circle class="a" cx="477" cy="608" r="5"/><text x="477" y="612">ERCC6</text></g>
<g id="n-DNAH11"><circle class="a" cx="253" cy="617" r="5"/><text x="253" y="621">DNAH11</text></g>
<g id="n-XDH"><circle class="a" cx="205" cy="617" r="5"/><text x="205" y="621">XDH</text></g>
<g id="n-SOD3"><circle class="a" cx="353" cy="617" r="5"/><text x="353" y="621">SOD3</text></g>
<g id="n-SERPINB4"><circle class="a" cx="435" cy="622" r="5"/><text x="435" y="626">SERPINB4</text></g>
<g id="n-CFAP221"><circle class="a" cx="290" cy="634" r="5"/><text x="290" y="638">CFAP221</text></g>
<g id="n-TAP1"><circle class="a" cx="400" cy="634" r="5"/><text x="400" y="638">TAP1</text></g>
<g id="n-HDAC9"><circle class="a" cx="512" cy="634" r="5"/><text x="512" y="638">HDAC9</text></g>
<g id="n-GNPTAB"><circle class="a" cx="457" cy="637" r="5"/><text x="457" y="641">GNPTAB</text></g>
<g id="n-NHEJ1"><circle class="a" cx="578" cy="647" r="5"/><text x="578" y="651">NHEJ1</text></g>
<g id="n-TAPBP"><circle class="a" cx="358" cy="647" r="5"/><text x="358" y="651">TAPBP</text></g>
<g id="n-IL6"><circle class="h" cx="418" cy="293" r="17"/><text x="418" y="297">IL6</text></g>
<g id="n-TNF"><circle class="g" cx="387" cy="301" r="16"/><text x="387" y="305">TNF</text></g>
</g>
</svg>
